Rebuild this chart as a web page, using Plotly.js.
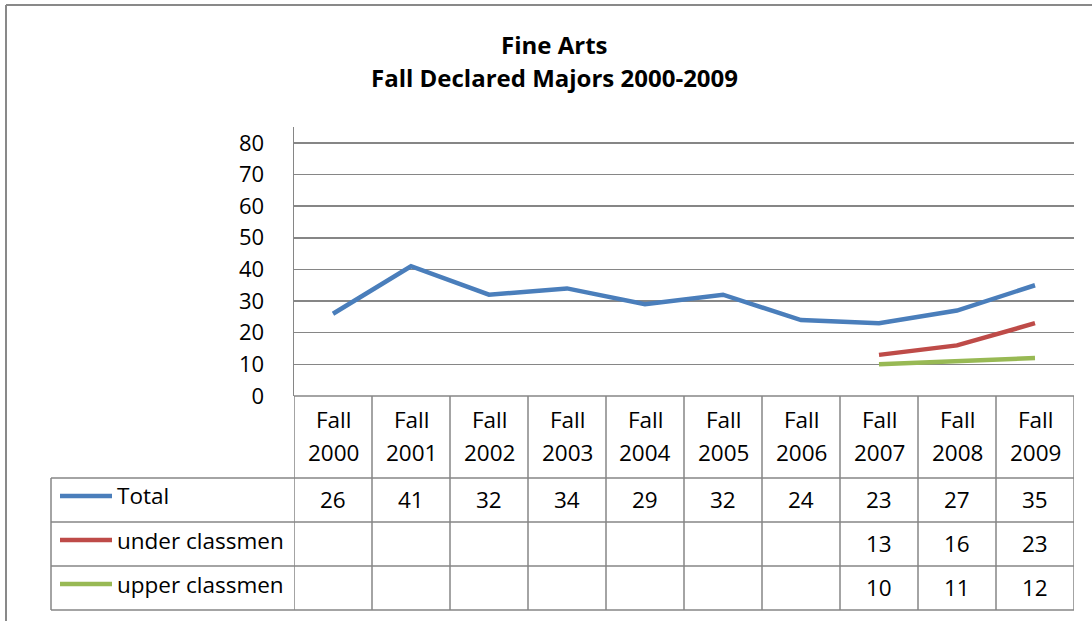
<!DOCTYPE html>
<html>
<head>
<meta charset="utf-8">
<script src="https://cdn.plot.ly/plotly-3.0.1.min.js"></script>
<style>
html,body{margin:0;padding:0;background:#fff;}
#chart{width:1092px;height:621px;}
</style>
</head>
<body>
<div id="chart"></div>
<script>
// ---- data ----
const titleLines = ["Fine Arts", "Fall Declared Majors 2000-2009"];
const categories = ["Fall 2000","Fall 2001","Fall 2002","Fall 2003","Fall 2004","Fall 2005","Fall 2006","Fall 2007","Fall 2008","Fall 2009"];
const seriesNames = ["Total", "under classmen", "upper classmen"];
const totalValues = [26, 41, 32, 34, 29, 32, 24, 23, 27, 35];
const underValues = [null, null, null, null, null, null, null, 13, 16, 23];
const upperValues = [null, null, null, null, null, null, null, 10, 11, 12];
const yTicks = [0, 10, 20, 30, 40, 50, 60, 70, 80];

// ---- styling / geometry ----
const colors = ["#4A7EBB", "#BE4B48", "#98B954"];
const W = 1092, H = 621;
const L = 294, R = 1074, T = 127, B = 396;
const plotH = B - T, plotW = R - L;
const FONT = "'Open Sans', Lato, sans-serif";
const FS = 22.5;
const gridColor = "#868686";
const py = p => (B - p) / plotH;        // pixel y -> paper y
const px = p => (p - L) / plotW;        // pixel x -> paper x

const allSeries = [totalValues, underValues, upperValues];
const traces = allSeries.map((vals, i) => ({
  type: "scatter", mode: "lines", name: seriesNames[i],
  x: categories, y: vals, connectgaps: false,
  line: {color: colors[i], width: 4.5},
  hoverinfo: "skip"
}));

const shapes = [];
const annotations = [];
const lineStyle = {color: gridColor, width: 1.5};

// outer chart border
shapes.push({type:"line", xref:"paper", yref:"paper", x0:px(6), x1:px(W+5), y0:py(5), y1:py(5), line:{color:"#898989", width:2}});
shapes.push({type:"line", xref:"paper", yref:"paper", x0:px(6), x1:px(6), y0:py(5), y1:py(H+5), line:{color:"#898989", width:2}});

// table rows (pixel positions)
const rowLines = [478, 522, 566, 610];
const rowCenters = [500, 544, 588];
shapes.push({type:"line", xref:"paper", yref:"paper", x0:0, x1:1, y0:0, y1:0, line:lineStyle});
rowLines.forEach(r => shapes.push({type:"line", xref:"paper", yref:"paper", x0:px(51), x1:1, y0:py(r), y1:py(r), line:lineStyle}));
for (let i = 0; i <= categories.length; i++) {
  shapes.push({type:"line", xref:"x", yref:"paper", x0:i-0.5, x1:i-0.5, y0:py(610), y1:0, line:lineStyle});
}
shapes.push({type:"line", xref:"paper", yref:"paper", x0:px(51), x1:px(51), y0:py(610), y1:py(478), line:lineStyle});

// legend keys
seriesNames.forEach((n, i) => {
  const yc = py(rowCenters[i] - 4);
  shapes.push({type:"line", xref:"paper", yref:"paper", x0:px(60), x1:px(112), y0:yc, y1:yc, line:{color:colors[i], width:4.5}});
  annotations.push({xref:"paper", yref:"paper", x:px(115), y:py(rowCenters[i]-4), xanchor:"left", yanchor:"middle",
    text:n, showarrow:false, font:{family:FONT, size:FS, color:"#000"}});
});

// header labels (two lines)
categories.forEach(c => {
  const parts = c.split(" ");
  annotations.push({xref:"x", yref:"paper", x:c, y:py(419), xanchor:"center", yanchor:"middle", text:parts[0], showarrow:false, font:{family:FONT, size:FS, color:"#000"}});
  annotations.push({xref:"x", yref:"paper", x:c, y:py(452), xanchor:"center", yanchor:"middle", text:parts[1], showarrow:false, font:{family:FONT, size:FS, color:"#000"}});
});

// table values
allSeries.forEach((vals, r) => {
  vals.forEach((v, j) => {
    if (v === null) return;
    annotations.push({xref:"x", yref:"paper", x:categories[j], y:py(rowCenters[r]-1), xanchor:"center", yanchor:"middle",
      text:String(v), showarrow:false, font:{family:FONT, size:FS, color:"#000"}});
  });
});

// title
annotations.push({xref:"paper", yref:"paper", x:px(554), y:py(44), xanchor:"center", yanchor:"middle", text:"<b>"+titleLines[0]+"</b>", showarrow:false, font:{family:FONT, size:24, color:"#000"}});
annotations.push({xref:"paper", yref:"paper", x:px(554), y:py(77), xanchor:"center", yanchor:"middle", text:"<b>"+titleLines[1]+"</b>", showarrow:false, font:{family:FONT, size:24, color:"#000"}});

const layout = {
  width: W, height: H,
  margin: {l: L, r: W - R, t: T, b: H - B, pad: 0},
  paper_bgcolor: "#fff", plot_bgcolor: "#fff",
  showlegend: false,
  xaxis: {type:"category", range:[-0.5, categories.length - 0.5], showticklabels:false, showgrid:false, zeroline:false, showline:false, ticks:"", fixedrange:true},
  yaxis: {range:[0, 85], tickvals:yTicks, ticktext:yTicks.map(String), showgrid:true, gridcolor:gridColor, gridwidth:1.5,
    zeroline:false, showline:true, linecolor:gridColor, linewidth:1.5, ticks:"", ticklabelstandoff:24,
    tickfont:{family:FONT, size:22, color:"#000"}, fixedrange:true},
  shapes: shapes,
  annotations: annotations
};

Plotly.newPlot("chart", traces, layout, {displayModeBar:false, staticPlot:true});
</script>
</body>
</html>
